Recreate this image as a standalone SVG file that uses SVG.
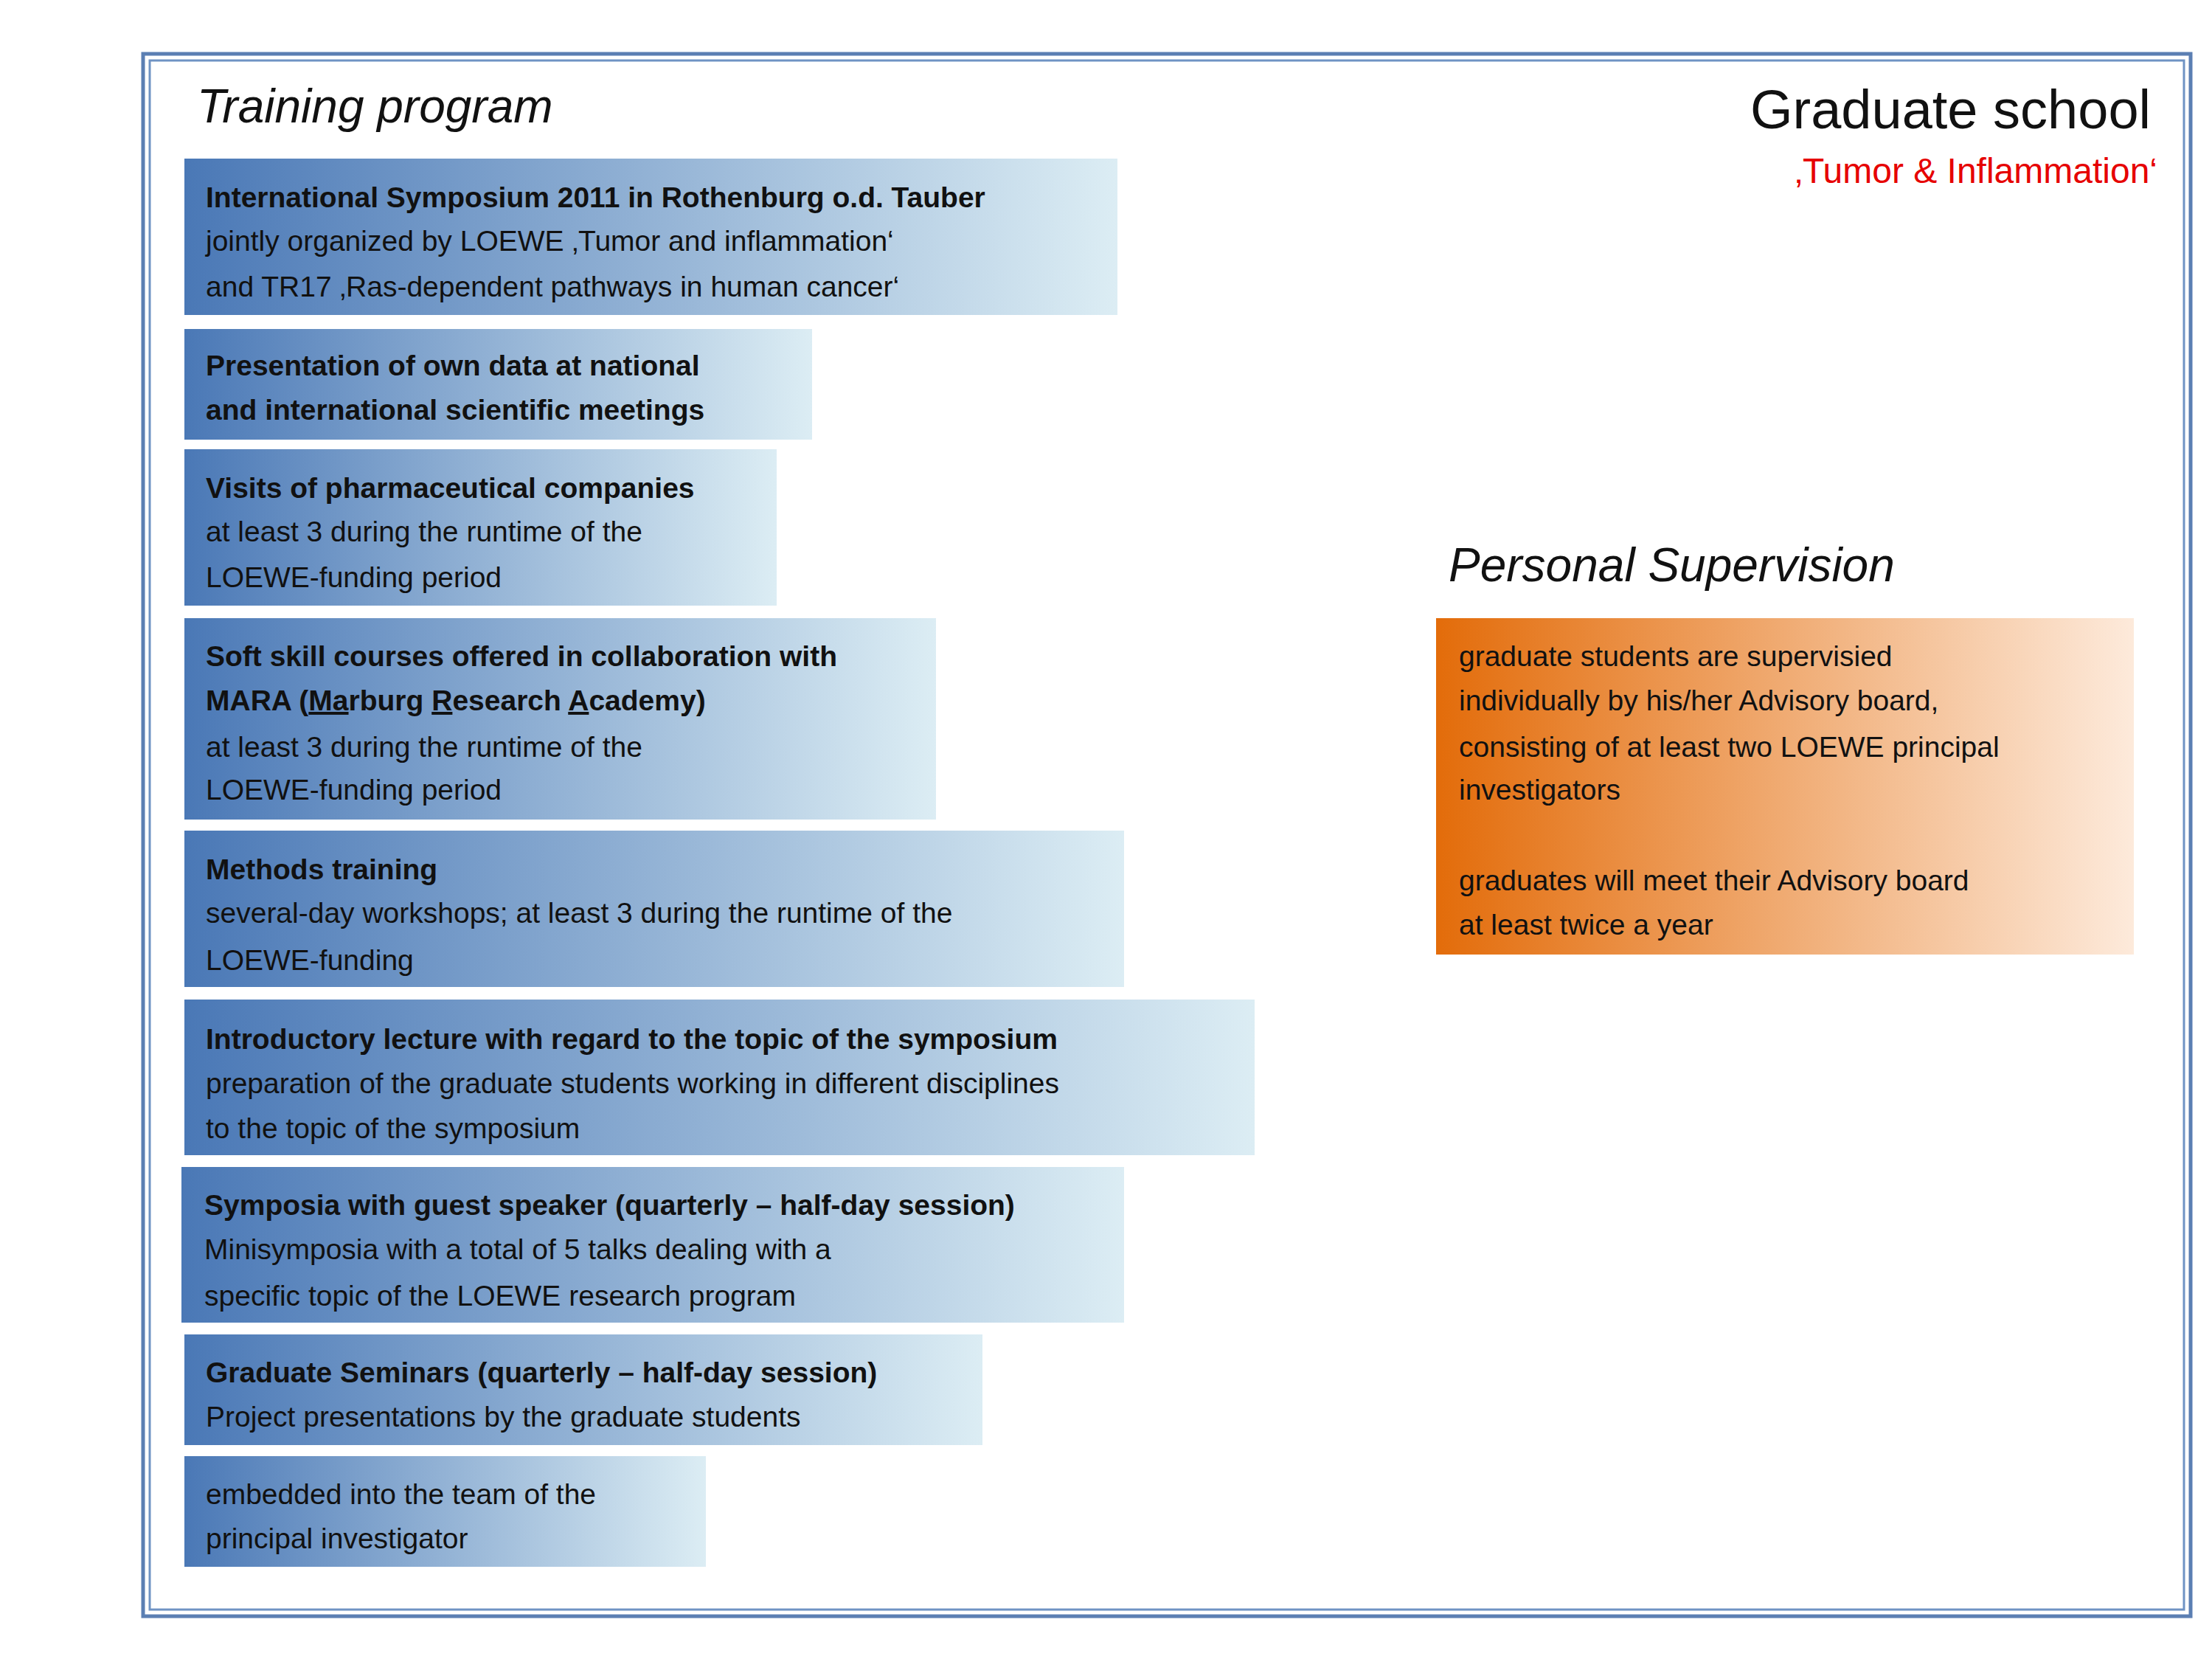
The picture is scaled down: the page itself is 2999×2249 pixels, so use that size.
<svg xmlns="http://www.w3.org/2000/svg" width="2999" height="2249" viewBox="0 0 2999 2249">
<defs>
<linearGradient id="bl" x1="0" y1="0" x2="1" y2="0"><stop offset="0" stop-color="#4a78b6"/><stop offset="1" stop-color="#dcedf4"/></linearGradient>
<linearGradient id="or" x1="0" y1="0" x2="1" y2="0"><stop offset="0" stop-color="#e36c0a"/><stop offset="1" stop-color="#fdeadb"/></linearGradient>
</defs>
<style>
text{font-family:"Liberation Sans",Arial,sans-serif;fill:#111}
.t{font-size:39px}
.b{font-weight:bold}
.h{font-size:64px;font-style:italic}
</style>
<rect width="2999" height="2249" fill="#fff"/>
<g id="frame">
<rect x="194" y="73" width="2776" height="2118" fill="none" stroke="#5b7fb3" stroke-width="5"/>
<rect x="203" y="82" width="2758" height="2100" fill="none" stroke="#6f93c4" stroke-width="3"/>
</g>
<g id="titles">
<text class="h" x="267" y="166">Training program</text>
<text x="2916" y="174" font-size="74" text-anchor="end">Graduate school</text>
<text x="2925" y="248" font-size="48" text-anchor="end" style="fill:#e60000">‚Tumor &amp; Inflammation‘</text>
<text class="h" x="1964" y="788">Personal Supervision</text>
</g>
<g id="n1"><rect x="250" y="215" width="1265" height="212" fill="url(#bl)"/>
<text class="t b" x="279" y="281">International Symposium 2011 in Rothenburg o.d. Tauber</text>
<text class="t" x="279" y="340"> jointly organized by LOEWE ‚Tumor and inflammation‘</text>
<text class="t" x="279" y="402">and TR17 ‚Ras-dependent pathways in human cancer‘</text></g>
<g id="n2"><rect x="250" y="446" width="851" height="150" fill="url(#bl)"/>
<text class="t b" x="279" y="509">Presentation of own data at national</text>
<text class="t b" x="279" y="569">and international scientific meetings</text></g>
<g id="n3"><rect x="250" y="609" width="803" height="212" fill="url(#bl)"/>
<text class="t b" x="279" y="675">Visits of pharmaceutical companies</text>
<text class="t" x="279" y="734">at least 3 during the runtime of the</text>
<text class="t" x="279" y="796">LOEWE-funding period</text></g>
<g id="n4"><rect x="250" y="838" width="1019" height="273" fill="url(#bl)"/>
<text class="t b" x="279" y="903">Soft skill courses offered in collaboration with</text>
<text class="t b" x="279" y="963">MARA (<tspan text-decoration="underline">Ma</tspan>rburg <tspan text-decoration="underline">R</tspan>esearch <tspan text-decoration="underline">A</tspan>cademy)</text>
<text class="t" x="279" y="1026">at least 3 during the runtime of the</text>
<text class="t" x="279" y="1084">LOEWE-funding period</text></g>
<g id="n5"><rect x="250" y="1126" width="1274" height="212" fill="url(#bl)"/>
<text class="t b" x="279" y="1192">Methods training</text>
<text class="t" x="279" y="1251">several-day workshops; at least 3 during the runtime of the</text>
<text class="t" x="279" y="1315">LOEWE-funding</text></g>
<g id="n6"><rect x="250" y="1355" width="1451" height="211" fill="url(#bl)"/>
<text class="t b" x="279" y="1422">Introductory lecture with regard to the topic of the symposium</text>
<text class="t" x="279" y="1482">preparation of the graduate students working in different disciplines</text>
<text class="t" x="279" y="1543">to the topic of the symposium</text></g>
<g id="n7"><rect x="246" y="1582" width="1278" height="211" fill="url(#bl)"/>
<text class="t b" x="277" y="1647">Symposia with guest speaker (quarterly – half-day session)</text>
<text class="t" x="277" y="1707">Minisymposia with a total of 5 talks dealing with a</text>
<text class="t" x="277" y="1770">specific topic of the LOEWE research program</text></g>
<g id="n8"><rect x="250" y="1809" width="1082" height="150" fill="url(#bl)"/>
<text class="t b" x="279" y="1874">Graduate Seminars (quarterly – half-day session)</text>
<text class="t" x="279" y="1934">Project presentations by the graduate students</text></g>
<g id="n9"><rect x="250" y="1974" width="707" height="150" fill="url(#bl)"/>
<text class="t" x="279" y="2039">embedded into the team of the</text>
<text class="t" x="279" y="2099">principal investigator</text></g>
<g id="sup"><rect x="1947" y="838" width="946" height="456" fill="url(#or)"/>
<text class="t" x="1978" y="903">graduate students are supervisied</text>
<text class="t" x="1978" y="963">individually by his/her Advisory board,</text>
<text class="t" x="1978" y="1026">consisting of at least two LOEWE principal</text>
<text class="t" x="1978" y="1084">investigators</text>
<text class="t" x="1978" y="1207">graduates will meet their Advisory board</text>
<text class="t" x="1978" y="1267">at least twice a year</text></g>
<g id="connectors"/>
</svg>
